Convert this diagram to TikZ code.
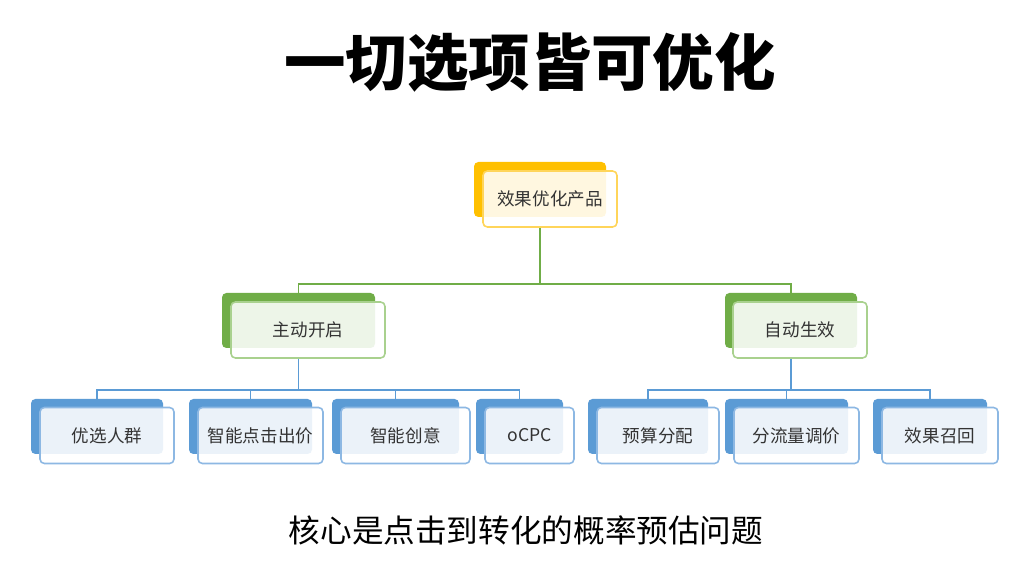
\documentclass[tikz,border=0pt]{standalone}
\usepackage{fontspec}
\setmainfont{Noto Sans CJK SC}
\usetikzlibrary{positioning}
\definecolor{goldbk}{HTML}{FFC000}
\definecolor{goldfr}{HTML}{FFD55A}
\definecolor{greenbk}{HTML}{70AD47}
\definecolor{greenfr}{HTML}{A9D18E}
\definecolor{bluebk}{HTML}{5B9BD5}
\definecolor{bluefr}{HTML}{8DB8E3}

\begin{document}
\begin{tikzpicture}[x=0.02cm, y=-0.02cm,
  bk/.style={rounded corners=2.5pt, inner sep=0pt, minimum height=55*0.02cm},
  fr/.style={draw, rounded corners=2.5pt, fill=white, fill opacity=0.88,
             text opacity=1, line width=0.9pt, inner sep=0pt,
             minimum height=56*0.02cm, text=black!80,
             font=\fontsize{10}{12}\selectfont},
  gline/.style={draw=greenbk, line width=0.8pt},
  bline/.style={draw=bluebk, line width=0.8pt}
]
  \fill[white] (0,0) rectangle (1018,563);
  \useasboundingbox (0,0) rectangle (1018,563);

  % title
  \node[font=\fontsize{35}{40}\selectfont\bfseries] (title) at (530,62) {一切选项皆可优化};

  % top product
  \node[bk, fill=goldbk, minimum width=132*0.02cm] (prodbk) at (540,189.5) {};
  \node[fr, draw=goldfr, minimum width=134*0.02cm] (prod) at (550,199) {效果优化产品};

  % second level
  \node[bk, fill=greenbk, minimum width=153*0.02cm] (zdbk) at (298.5,320.5) {};
  \node[fr, draw=greenfr, minimum width=154*0.02cm] (zd) at (308,330) {主动开启};
  \node[bk, fill=greenbk, minimum width=132*0.02cm] (zxbk) at (791,320.5) {};
  \node[fr, draw=greenfr, minimum width=134*0.02cm] (zx) at (800,330) {自动生效};

  \coordinate (busA) at (540,284);
  \coordinate (busL) at (298.5,390);
  \coordinate (busR) at (791,390);
  \draw[gline] (prodbk |- prod.south) -- (busA) -| (zdbk.north);
  \draw[gline] (busA) -| (zxbk.north);
  \draw[bline] (zdbk |- zd.south) -- (busL);
  \draw[bline] (zxbk |- zx.south) -- (busR);

  % third level
  \foreach \nm/\x/\w/\txt/\bus in {
      yxrq/97/132/优选人群/busL, znbid/250.5/123/智能点击出价/busL,
      zncy/395.5/127/智能创意/busL, ocpc/519.5/87/oCPC/busL,
      ysfp/648/120/预算分配/busR, flltj/786.5/123/分流量调价/busR,
      xgzh/930/114/效果召回/busR} {
    \node[bk, fill=bluebk, minimum width=\w*0.02cm] (\nm-bk) at (\x,426.5) {};
    \node[fr, draw=bluefr, minimum width=\w*0.02cm+2*0.02cm] (\nm) at (\x+10,435.5) {\txt};
    \draw[bline] (\bus) -| (\nm-bk.north);
  }

  % bottom note
  \node[font=\fontsize{18}{22}\selectfont] (core) at (526,530) {核心是点击到转化的概率预估问题};
\end{tikzpicture}
\end{document}
